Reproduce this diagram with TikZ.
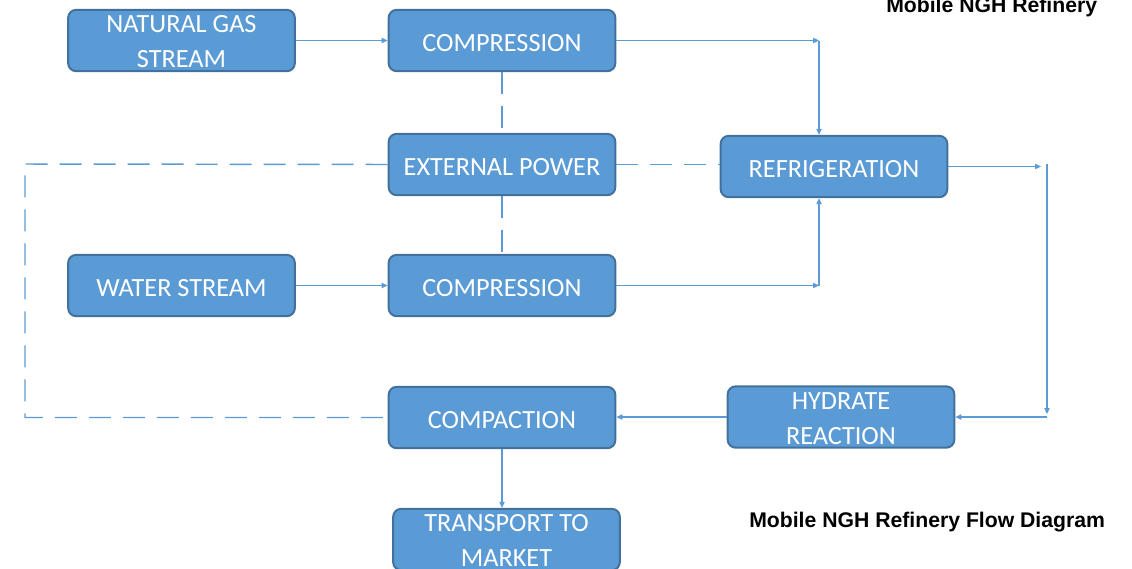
\documentclass[tikz,border=0pt]{standalone}
\usepackage{fontspec}
\newfontfamily\boxfont{Carlito}
\newfontfamily\titlefont{Liberation Sans}
\usetikzlibrary{arrows.meta}
\definecolor{boxfill}{HTML}{5B9BD5}
\definecolor{boxline}{HTML}{41719C}
\definecolor{linkc}{HTML}{5B9BD5}
\tikzset{
  blk/.style={draw=boxline, fill=boxfill, line width=1.5pt, rounded corners=6pt,
    minimum width=170pt, minimum height=46pt, inner sep=0pt},
  txt/.style={inner sep=0pt, align=center, text=white,
    font=\boxfont\fontsize{19.7}{26.3}\selectfont},
  one/.style={label={[txt, yshift=-2pt]center:#1}},
  two/.style={label={[txt, yshift=-1pt]center:#1}},
  arr/.style={draw=linkc, line width=0.8pt, -{Triangle[length=4.5pt,width=4pt]}},
  dsh/.style={draw=linkc, line width=1.1pt, dash pattern=on 16.5pt off 9pt},
  ttl/.style={font=\titlefont\bfseries\fontsize{15.9}{18}\selectfont, inner sep=0pt, anchor=base west}
}
\begin{document}
\begin{tikzpicture}[x=0.75pt,y=-0.75pt]
\useasboundingbox (0,0) rectangle (1132,568);
\node[blk, two={NATURAL GAS\\STREAM}] (ng) at (181.5,40.5) {};
\node[blk, one={COMPRESSION}] (c1) at (502,40.5) {};
\node[blk, one={EXTERNAL POWER}] (ep) at (502,164.5) {};
\node[blk, one={REFRIGERATION}] (ref) at (834,166.5) {};
\node[blk, one={WATER STREAM}] (ws) at (181.5,285.5) {};
\node[blk, one={COMPRESSION}] (c2) at (502,285.5) {};
\node[blk, one={COMPACTION}] (cp) at (502,417.5) {};
\node[blk, two={HYDRATE\\REACTION}] (hr) at (841,417) {};
\node[blk, two={TRANSPORT TO\\MARKET}] (tr) at (506.5,539.5) {};
\node[ttl] (t1) at (886,12.5) {Mobile NGH Refinery};
\node[ttl] (t2) at (749,527) {Mobile NGH Refinery Flow Diagram};
\coordinate (p1) at (819,40.5);
\coordinate (p2) at (1041,166.5);
\coordinate (p3) at (1047,164);
\coordinate (p4) at (1047,414);
\coordinate (p5) at (1047,417);
\coordinate (p6) at (819,285.5);
\coordinate (d1) at (25,164);
\coordinate (d2) at (25,417.5);
\draw[arr] (ng.east) -- (c1.west);
\draw[arr] (c1.east) -- (p1);
\draw[arr] (p1) -- (p1 |- ref.north);
\draw[arr] (ref.east) -- (p2);
\draw[arr] (p3) -- (p4);
\draw[arr] (p5) -- (hr.east);
\draw[arr] (ws.east) -- (c2.west);
\draw[arr] (c2.east) -- (p6);
\draw[arr] (p6) -- (p6 |- ref.south);
\draw[arr] (hr.west) -- (hr.west -| cp.east);
\draw[arr] (cp.south) -- (cp.south |- tr.north);
\draw[dsh] (c1.south) -- (ep.north);
\draw[dsh] (ep.south) -- (c2.north);
\draw[dsh] (ep.east) -- (ep.east -| ref.west);
\draw[dsh] (ep.west) -- (d1) -- (d2) -- (cp.west);
\end{tikzpicture}
\end{document}
